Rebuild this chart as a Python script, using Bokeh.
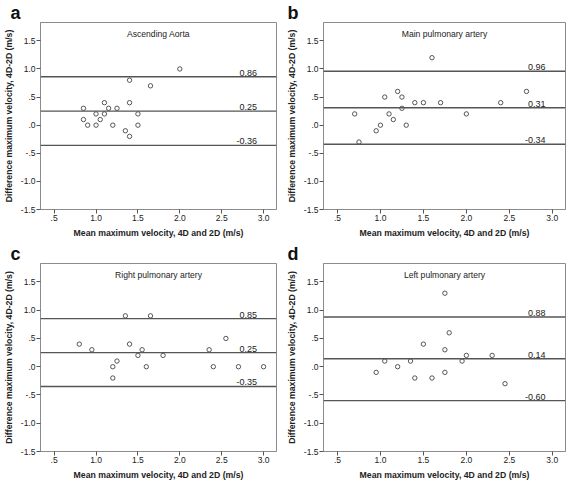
from bokeh.plotting import figure
from bokeh.models import Range1d, FixedTicker, Span, Label
from bokeh.layouts import column, row
from bokeh.embed import file_html
from bokeh.resources import INLINE

FONT = "Liberation Sans"

panel_letters = ["a", "b", "c", "d"]
panel_titles = ["Ascending Aorta", "Main pulmonary artery",
                "Right pulmonary artery", "Left pulmonary artery"]

# Panel a: Ascending Aorta
a_mean = [0.85, 0.85, 0.9, 1.0, 1.0, 1.05, 1.1, 1.1, 1.15, 1.2, 1.25,
          1.35, 1.4, 1.4, 1.4, 1.5, 1.5, 1.65, 2.0]
a_diff = [0.3, 0.1, 0.0, 0.2, 0.0, 0.1, 0.4, 0.2, 0.3, 0.0, 0.3,
          -0.1, 0.8, 0.4, -0.2, 0.2, 0.0, 0.7, 1.0]

# Panel b: Main pulmonary artery
b_mean = [0.7, 0.75, 0.95, 1.0, 1.05, 1.1, 1.15, 1.2, 1.25, 1.25, 1.3,
          1.4, 1.5, 1.6, 1.7, 2.0, 2.4, 2.7]
b_diff = [0.2, -0.3, -0.1, 0.0, 0.5, 0.2, 0.1, 0.6, 0.5, 0.3, 0.0,
          0.4, 0.4, 1.2, 0.4, 0.2, 0.4, 0.6]

# Panel c: Right pulmonary artery
c_mean = [0.8, 0.95, 1.2, 1.2, 1.25, 1.35, 1.4, 1.5, 1.55, 1.6, 1.65,
          1.8, 2.35, 2.4, 2.55, 2.7, 3.0]
c_diff = [0.4, 0.3, 0.0, -0.2, 0.1, 0.9, 0.4, 0.2, 0.3, 0.0, 0.9,
          0.2, 0.3, 0.0, 0.5, 0.0, 0.0]

# Panel d: Left pulmonary artery
d_mean = [0.95, 1.05, 1.2, 1.35, 1.4, 1.5, 1.6, 1.75, 1.75, 1.75, 1.8,
          1.95, 2.0, 2.3, 2.45]
d_diff = [-0.1, 0.1, 0.0, 0.1, -0.2, 0.4, -0.2, 1.3, 0.3, -0.1, 0.6,
          0.1, 0.2, 0.2, -0.3]

upper_loa = [0.86, 0.96, 0.85, 0.88]
mean_bias = [0.25, 0.31, 0.25, 0.14]
lower_loa = [-0.36, -0.34, -0.35, -0.60]

x_ticks = [0.5, 1.0, 1.5, 2.0, 2.5, 3.0]
x_tick_labels = [".5", "1.0", "1.5", "2.0", "2.5", "3.0"]
y_ticks = [-1.5, -1.0, -0.5, 0.0, 0.5, 1.0, 1.5]
y_tick_labels = ["-1.5", "-1.0", "-.5", ".0", ".5", "1.0", "1.5"]

x_label = "Mean maximum velocity, 4D and 2D (m/s)"
y_label = "Difference maximum velocity, 4D-2D (m/s)"

X_START, X_END = 0.337, 3.154
Y_START, Y_END = -1.5, 1.826

TEXT = "#222222"
FRAME = "#8c8c8c"
LINE = "#555555"


def make_panel(i, xs, ys, w, h, bl, br, bt, bb):
    p = figure(width=w, height=h,
               x_range=Range1d(X_START, X_END), y_range=Range1d(Y_START, Y_END),
               output_backend="svg", toolbar_location=None,
               min_border_left=bl, min_border_right=br,
               min_border_top=bt, min_border_bottom=bb,
               background_fill_color="white", border_fill_color="white")
    p.outline_line_color = FRAME
    p.outline_line_width = 1
    p.xgrid.visible = False
    p.ygrid.visible = False

    # panel letter as the title, pulled left over the y-axis area
    p.title.text = panel_letters[i]
    p.title.align = "left"
    p.title.offset = -(bl - 4)
    p.title.standoff = 0
    p.title.text_font = FONT
    p.title.text_font_size = "18px"
    p.title.text_font_style = "bold"
    p.title.text_color = "#111111"

    p.xaxis.ticker = FixedTicker(ticks=x_ticks)
    p.xaxis.major_label_overrides = dict(zip(x_ticks, x_tick_labels))
    p.yaxis.ticker = FixedTicker(ticks=y_ticks)
    p.yaxis.major_label_overrides = dict(zip(y_ticks, y_tick_labels))
    for ax in (p.xaxis, p.yaxis):
        ax.axis_line_color = FRAME
        ax.major_tick_line_color = "#555555"
        ax.major_tick_in = 0
        ax.major_tick_out = 4
        ax.minor_tick_line_color = None
        ax.major_label_text_font = FONT
        ax.major_label_text_font_size = "8.5px"
        ax.major_label_text_color = TEXT
        ax.major_label_standoff = 1
        ax.axis_label_text_font = FONT
        ax.axis_label_text_font_size = "8.7px"
        ax.axis_label_text_font_style = "bold"
        ax.axis_label_text_color = TEXT
    p.xaxis.axis_label = x_label
    p.yaxis.axis_label = y_label
    p.xaxis.axis_label_standoff = 4
    p.yaxis.axis_label_standoff = 4
    p.yaxis.major_label_orientation = "horizontal"

    for v in (upper_loa[i], mean_bias[i], lower_loa[i]):
        p.add_layout(Span(location=v, dimension="width",
                          line_color=LINE, line_width=1.4))
        p.add_layout(Label(x=2.92, y=v, text=f"{v:.2f}",
                           text_align="right", text_baseline="bottom", y_offset=1,
                           text_font=FONT, text_font_size="9px",
                           text_color=TEXT))

    p.scatter(xs, ys, marker="circle", size=4.4, fill_color=None,
              line_color="#444444", line_width=0.9)

    p.add_layout(Label(x=(X_START + X_END) / 2, y=Y_END - 0.21,
                       text=panel_titles[i], text_align="center",
                       text_baseline="middle", text_font=FONT,
                       text_font_size="8.6px", text_color=TEXT))
    return p


pa = make_panel(0, a_mean, a_diff, 283, 240, 34, 7, 21, 29)
pb = make_panel(1, b_mean, b_diff, 284, 240, 40, 2, 21, 29)
pc = make_panel(2, c_mean, c_diff, 283, 244, 34, 7, 23, 33)
pd = make_panel(3, d_mean, d_diff, 284, 244, 40, 2, 23, 33)

layout = column(row(pa, pb), row(pc, pd))

open("out.html", "w").write(file_html(layout, INLINE))
